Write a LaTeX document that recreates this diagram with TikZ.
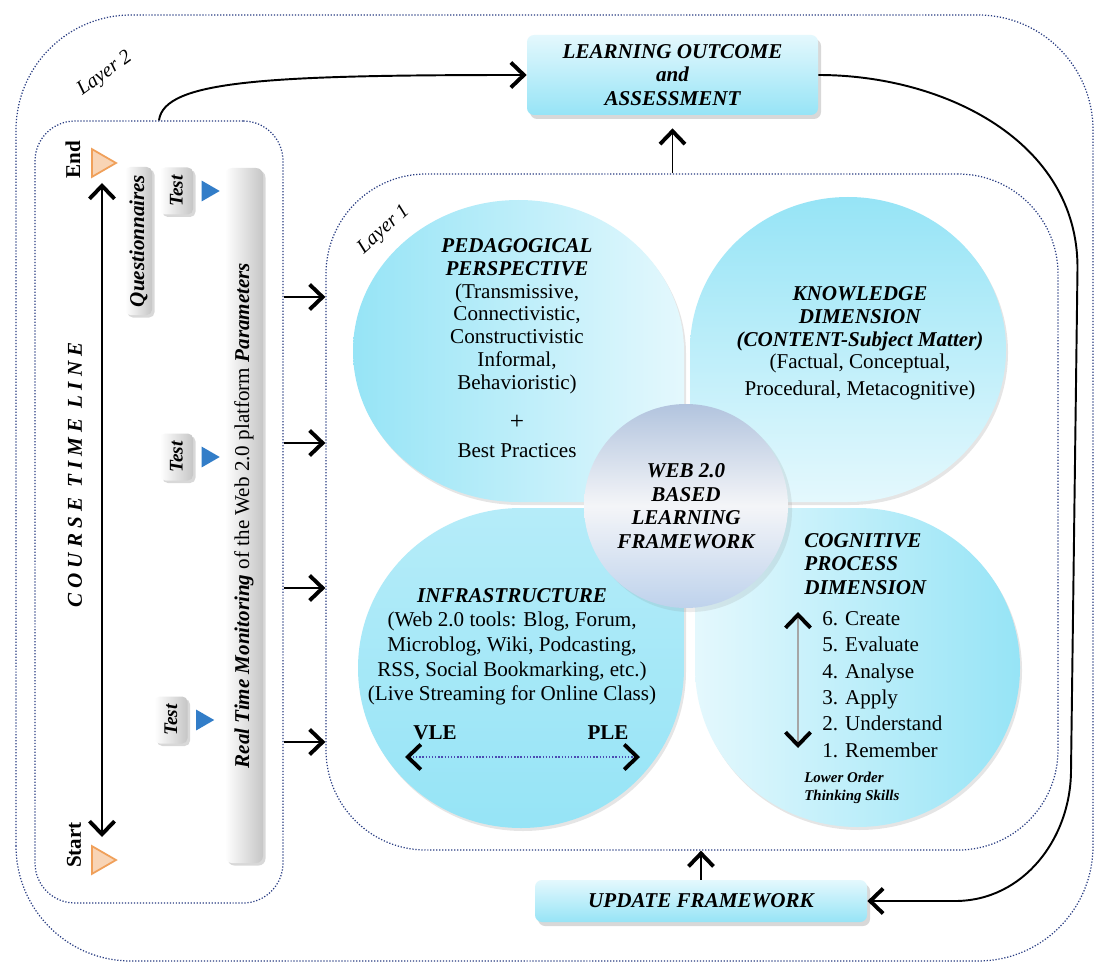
\documentclass[tikz,border=0pt]{standalone}
\usepackage{fontspec}
\setmainfont{Liberation Serif}
\usepackage{xcolor}
\usepackage{tikz}
\usetikzlibrary{positioning,arrows.meta,shadows,shapes.geometric}

\definecolor{layerblue}{RGB}{40,60,130}
\definecolor{petaldeep}{RGB}{150,228,246}
\definecolor{petalpale}{RGB}{228,248,253}
\definecolor{webtop}{RGB}{178,196,222}
\definecolor{webmid}{RGB}{244,245,248}
\definecolor{webbot}{RGB}{190,210,236}
\definecolor{markorange}{RGB}{240,160,90}
\definecolor{markblue}{RGB}{50,125,200}

\begin{document}
\begin{tikzpicture}[
  >={Straight Barb[length=2.6mm,width=5mm,line width=2.2pt]},
  layer_line/.style={draw=layerblue, densely dotted, line width=0.7pt},
  link/.style={->, line width=1.1pt},
  petal_fill/.style={drop shadow={opacity=0.2, shadow xshift=0.4mm, shadow yshift=-0.6mm}},
  petal_text/.style={font=\fontsize{12}{13}\selectfont, align=center, inner sep=0pt},
  grey_box/.style={rounded corners=3pt, left color=white, right color=gray!45, drop shadow={opacity=0.3, shadow xshift=0.5mm, shadow yshift=-0.5mm}, rotate=90, inner sep=0pt, font=\fontsize{12}{13}\selectfont\bfseries\itshape},
  cyan_box/.style={rounded corners=4pt, top color=petalpale, bottom color=petaldeep, drop shadow={opacity=0.3, shadow xshift=0.6mm, shadow yshift=-0.8mm}, align=center, font=\fontsize{12}{13.5}\selectfont\bfseries\itshape},
  test_mark/.style={regular polygon, regular polygon sides=3, shape border rotate=-90, minimum size=0.48cm, inner sep=0pt, fill=markblue},
  time_mark/.style={regular polygon, regular polygon sides=3, shape border rotate=-90, minimum size=0.64cm, inner sep=0pt, fill=markorange!45, draw=markorange, line width=1pt},
  dot_arrow/.style={{Straight Barb[length=2.6mm,width=5mm,line width=2.2pt,color=black]}-{Straight Barb[length=2.6mm,width=5mm,line width=2.2pt,color=black]}},
]
\fill[white] (0,0) rectangle (21.92,19.30);
\useasboundingbox (0,0) rectangle (21.92,19.30);

\draw[layer_line, rounded corners=2.3cm] (0.32,0.08) rectangle (21.86,19.00);
\node[rotate=36, font=\fontsize{11.5}{12}\selectfont\itshape] (layer_2_label) at (2.10,17.82) {Layer 2};

\node[layer_line, rounded corners=0.8cm, minimum width=4.96cm, minimum height=15.64cm] (tl_box) at (3.18,9.06) {};
\node[layer_line, rounded corners=2cm, minimum width=14.64cm, minimum height=13.52cm] (layer_1) at (13.84,9.06) {};
\node[rotate=42, font=\fontsize{11.5}{12}\selectfont\itshape] (layer_1_label) at (7.68,14.70) {Layer 1};

\path[petal_fill, left color=petaldeep, right color=petalpale]
  (13.68,9.26) -- (13.68,12.28) arc[start angle=0, end angle=180, x radius=3.31cm, y radius=3.02cm]
  arc[start angle=180, end angle=270, x radius=3.31cm, y radius=3.02cm] -- cycle;
\path[petal_fill, top color=petaldeep, bottom color=petalpale]
  (13.80,9.26) -- (13.80,12.31) arc[start angle=180, end angle=0, x radius=3.16cm, y radius=3.05cm]
  arc[start angle=0, end angle=-90, x radius=3.16cm, y radius=3.05cm] -- cycle;
\path[petal_fill, top color=petaldeep!60!petalpale, bottom color=petaldeep]
  (13.68,9.14) -- (10.42,9.14) arc[start angle=90, end angle=270, x radius=3.26cm, y radius=3.20cm]
  arc[start angle=270, end angle=360, x radius=3.26cm, y radius=3.20cm] -- cycle;
\path[petal_fill, left color=petalpale, right color=petaldeep]
  (13.90,9.14) -- (17.15,9.14) arc[start angle=90, end angle=-90, x radius=3.25cm, y radius=3.19cm]
  arc[start angle=270, end angle=180, x radius=3.25cm, y radius=3.19cm] -- cycle;

\node[circle, minimum size=4.08cm, top color=webtop, bottom color=webbot, middle color=webmid, drop shadow={opacity=0.15}, align=center, font=\fontsize{12}{13.4}\selectfont\bfseries\itshape] (web) at (13.72,9.18) {WEB 2.0\\BASED\\LEARNING\\FRAMEWORK};

\node[petal_text, anchor=north] (ped_text) at (10.34,14.54)
  {\textbf{\textit{PEDAGOGICAL}}\\\textbf{\textit{PERSPECTIVE}}\\(Transmissive,\\Connectivistic,\\Constructivistic\\Informal,\\Behavioristic)\\[10pt]{\Large +}\\[3pt]Best Practices};
\node[petal_text, anchor=north] (know_text) at (17.20,13.58)
  {\textbf{\textit{KNOWLEDGE}}\\\textbf{\textit{DIMENSION}}\\\textbf{\textit{(CONTENT-Subject Matter)}}\\(Factual, Conceptual,\\[2pt]Procedural, Metacognitive)};
\node[petal_text, anchor=north, font=\fontsize{12}{14}\selectfont] (infra_text) at (10.24,7.54)
  {\textbf{\textit{INFRASTRUCTURE}}\\(Web 2.0 tools: Blog, Forum,\\Microblog, Wiki, Podcasting,\\RSS, Social Bookmarking, etc.)\\(Live Streaming for Online Class)};
\node[font=\fontsize{12}{13}\selectfont\bfseries] (vle) at (8.70,4.64) {VLE};
\node[font=\fontsize{12}{13}\selectfont\bfseries] (ple) at (12.16,4.64) {PLE};
\coordinate (vle_end) at (8.10,4.16);
\coordinate (ple_end) at (12.80,4.16);
\draw[dot_arrow, draw=gray!60!blue, densely dotted, line width=0.8pt] (vle_end) -- (ple_end);

\node[petal_text, anchor=north west, align=left, font=\fontsize{12}{13.3}\selectfont\bfseries\itshape] (cog_head) at (16.08,8.64) {COGNITIVE\\PROCESS\\DIMENSION};
\node[petal_text, anchor=north west, align=left, font=\fontsize{12}{15}\selectfont] (cog_list) at (16.44,7.08)
  {6. Create\\5. Evaluate\\4. Analyse\\3. Apply\\2. Understand\\1. Remember};
\node[petal_text, anchor=north west, align=left, font=\fontsize{8.5}{10}\selectfont\bfseries\itshape] (lots_text) at (16.08,3.86) {Lower Order\\Thinking Skills};
\coordinate (cog_top) at (15.96,7.06);
\coordinate (cog_bottom) at (15.96,4.34);
\draw[dot_arrow, draw=gray!70, line width=0.8pt] (cog_top) -- (cog_bottom);

\node[cyan_box, minimum width=5.82cm, minimum height=1.6cm] (learning) at (13.45,17.80) {LEARNING OUTCOME\\and\\ASSESSMENT};
\node[cyan_box, minimum width=6.64cm, minimum height=0.84cm] (update) at (14.02,1.28) {UPDATE FRAMEWORK};

\node[rotate=90, font=\fontsize{12}{13}\selectfont\bfseries] (end_label) at (1.46,16.10) {End};
\node[rotate=90, font=\fontsize{12}{13}\selectfont\bfseries] (start_label) at (1.48,2.40) {Start};
\node[time_mark] (end_mark) at (2.00,16.04) {};
\node[time_mark] (start_mark) at (2.00,2.10) {};
\node[rotate=90, font=\fontsize{12}{13}\selectfont\bfseries\itshape\addfontfeatures{LetterSpace=24}] (course_label) at (1.50,9.80) {COURSE TIME LINE};
\draw[<->, line width=1.2pt] ([xshift=0.04cm, yshift=-4mm]end_mark.center) -- ([xshift=0.04cm, yshift=4.6mm]start_mark.center);

\node[grey_box, minimum width=2.96cm, minimum height=0.54cm] (quest_box) at (2.77,14.48) {Questionnaires};
\node[grey_box, minimum width=0.94cm, minimum height=0.66cm, font=\fontsize{11}{12}\selectfont\bfseries\itshape] (test_1) at (3.53,15.48) {Test};
\node[grey_box, minimum width=0.94cm, minimum height=0.66cm, font=\fontsize{11}{12}\selectfont\bfseries\itshape] (test_2) at (3.53,10.16) {Test};
\node[grey_box, minimum width=0.94cm, minimum height=0.66cm, font=\fontsize{11}{12}\selectfont\bfseries\itshape] (test_3) at (3.42,4.90) {Test};
\node[test_mark, right=0.16cm of test_1.south] (blue_1) {};
\node[test_mark, right=0.16cm of test_2.south] (blue_2) {};
\node[test_mark, right=0.16cm of test_3.south] (blue_3) {};
\node[grey_box, rounded corners=4pt, minimum width=13.9cm, minimum height=0.76cm, font=\fontsize{12}{13}\selectfont] (mon_bar) at (4.88,8.99)
  {\textbf{\textit{Real Time Monitoring}} of the Web 2.0 platform \textbf{\textit{Parameters}}};

\draw[link] (tl_box.east |- 0,13.36) -- (layer_1.west |- 0,13.36);
\draw[link] (tl_box.east |- 0,10.44) -- (layer_1.west |- 0,10.44);
\draw[link] (tl_box.east |- 0,7.54) -- (layer_1.west |- 0,7.54);
\draw[link] (tl_box.east |- 0,4.46) -- (layer_1.west |- 0,4.46);

\draw[link] (tl_box.north) .. controls +(0.1,0.8) and +(-5.2,0) .. (learning.west);
\draw[link, shorten >=2.6mm] (learning.south |- layer_1.north) -- (learning.south);
\draw[link] (learning.east) to[out=0, in=90] (21.55,13.95) -- (21.42,3.90) to[out=-90, in=0] (19.10,1.28) -- (update.east);
\draw[link] (update.north) -- (update.north |- layer_1.south);

\end{tikzpicture}
\end{document}
